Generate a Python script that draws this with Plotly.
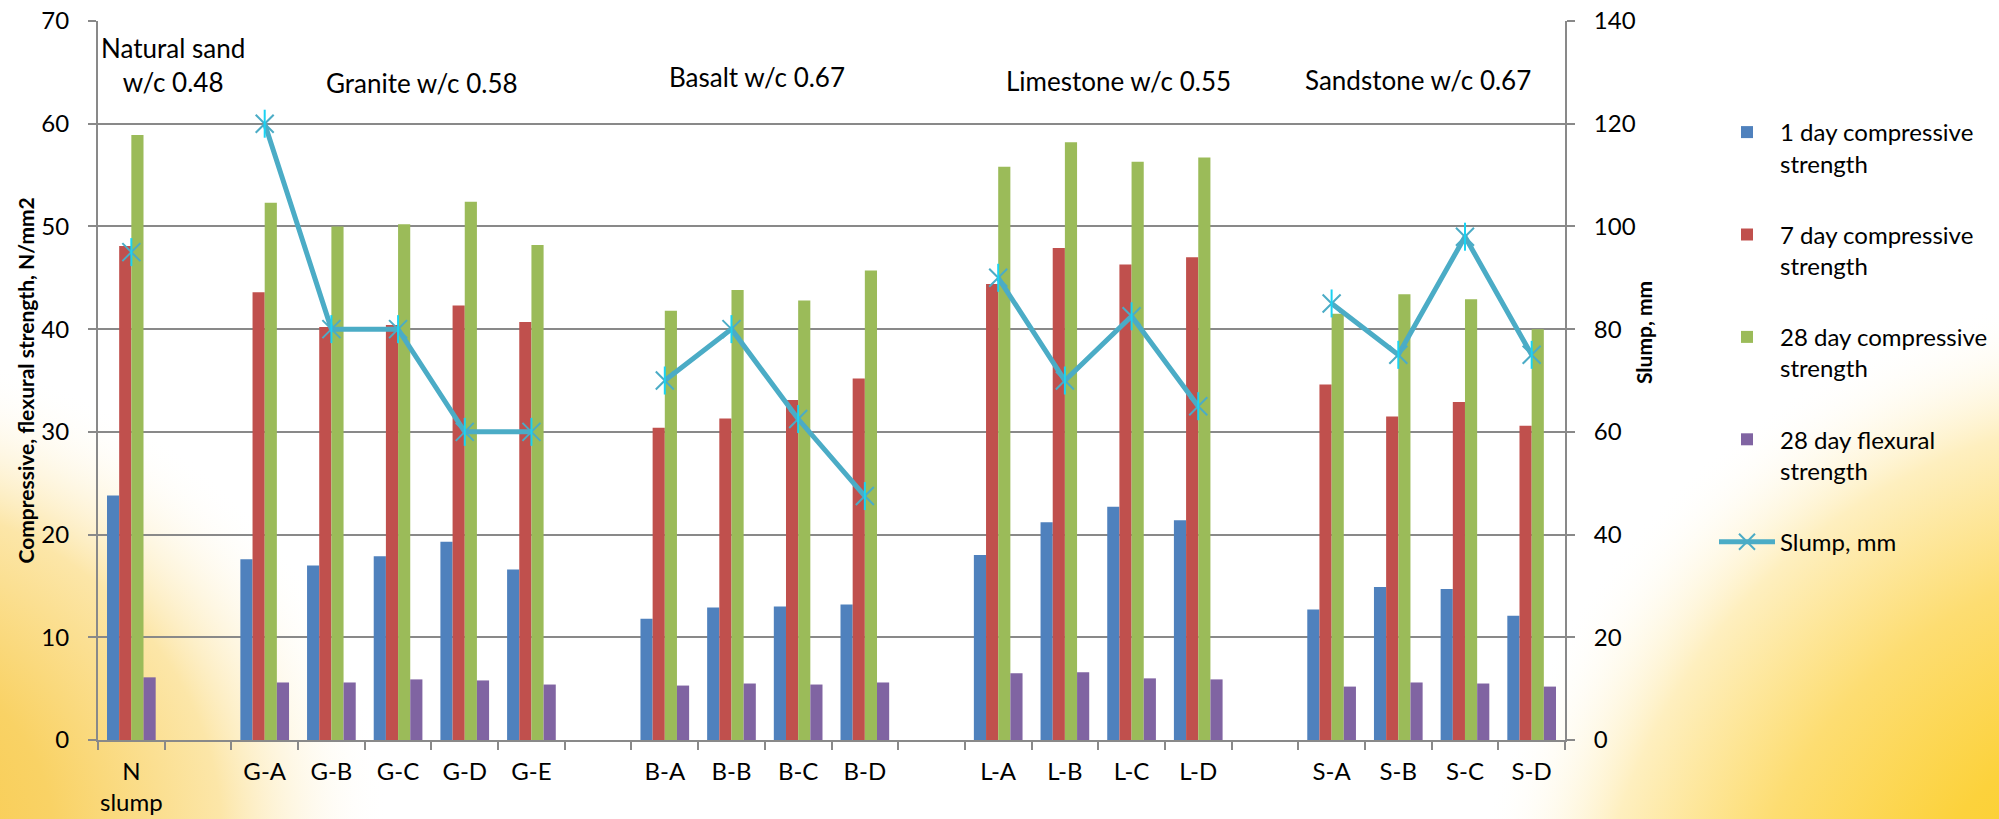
import base64
import plotly.graph_objects as go

# categories (blank entries are the gaps between aggregate groups)
categories = ["N<br>slump", " ", "G-A", "G-B", "G-C", "G-D", "G-E", "  ",
              "B-A", "B-B", "B-C", "B-D", "   ", "L-A", "L-B", "L-C", "L-D",
              "    ", "S-A", "S-B", "S-C", "S-D"]

comp_1day = [23.8, None, 17.6, 17.0, 17.9, 19.3, 16.6, None, 11.8, 12.9, 13.0, 13.2,
             None, 18.0, 21.2, 22.7, 21.4, None, 12.7, 14.9, 14.7, 12.1]
comp_7day = [48.1, None, 43.6, 40.2, 40.4, 42.3, 40.7, None, 30.4, 31.3, 33.1, 35.2,
             None, 44.4, 47.9, 46.3, 47.0, None, 34.6, 31.5, 32.9, 30.6]
comp_28day = [58.9, None, 52.3, 50.0, 50.2, 52.4, 48.2, None, 41.8, 43.8, 42.8, 45.7,
              None, 55.8, 58.2, 56.3, 56.7, None, 41.5, 43.4, 42.9, 40.0]
flex_28day = [6.1, None, 5.6, 5.6, 5.9, 5.8, 5.4, None, 5.3, 5.5, 5.4, 5.6,
              None, 6.5, 6.6, 6.0, 5.9, None, 5.2, 5.6, 5.5, 5.2]
slump = [95, None, 120, 80, 80, 60, 60, None, 70, 80, 62.5, 47.5,
         None, 90, 70, 82.5, 65, None, 85, 75, 98, 75]

group_labels = ["Natural sand<br>w/c 0.48", "Granite w/c 0.58", "Basalt w/c 0.67",
                "Limestone w/c 0.55", "Sandstone w/c 0.67"]
group_label_x = [0.62, 4.36, 9.38, 14.81, 19.3]
group_label_y = [65.7, 64.0, 64.5, 64.2, 64.3]

FONT = "Lato, Calibri, sans-serif"
GRID = "#898989"

# figure geometry
W, H = 1999, 819
L, R, T, B = 98, 434, 21, 79
pw, ph = W - L - R, H - T - B

# soft yellow glow in the bottom corners (background)
svg = f'''<svg xmlns="http://www.w3.org/2000/svg" width="{W}" height="{H}" viewBox="0 0 {W} {H}">
<defs>
<radialGradient id="gr">
<stop offset="0" stop-color="#FBC916"/>
<stop offset="0.40" stop-color="#FCD23C"/>
<stop offset="0.62" stop-color="#FDDD72"/>
<stop offset="0.82" stop-color="#FEEFBF"/>
<stop offset="1" stop-color="#FFFFFF" stop-opacity="0"/>
</radialGradient>
<radialGradient id="gl">
<stop offset="0" stop-color="#F8C63E"/>
<stop offset="0.40" stop-color="#F9D265"/>
<stop offset="0.70" stop-color="#FCE6A8"/>
<stop offset="1" stop-color="#FFFFFF" stop-opacity="0"/>
</radialGradient>
</defs>
<rect width="{W}" height="{H}" fill="#FFFFFF"/>
<ellipse cx="2180" cy="1000" rx="720" ry="720" fill="url(#gr)"/>
<ellipse cx="-170" cy="840" rx="560" ry="500" fill="url(#gl)"/>
</svg>'''
bg_src = "data:image/svg+xml;base64," + base64.b64encode(svg.encode()).decode()

fig = go.Figure()

bar_series = [
    ("1 day compressive<br>strength", comp_1day, "#4F81BD"),
    ("7 day compressive<br>strength", comp_7day, "#C0504D"),
    ("28 day compressive<br>strength", comp_28day, "#9BBB59"),
    ("28 day flexural<br>strength", flex_28day, "#8064A2"),
]
for i, (name, vals, col) in enumerate(bar_series):
    fig.add_trace(go.Bar(x=categories, y=vals, name=name, marker_color=col,
                         marker_line_width=0, legendgroup=f"g{i}"))

fig.add_trace(go.Scatter(x=categories, y=slump, name="Slump, mm", yaxis="y2",
                         mode="lines+markers", legendgroup="g4",
                         line=dict(color="#4BACC6", width=5),
                         marker=dict(symbol="x-thin-open", size=18,
                                     color="#4BACC6", line=dict(width=2, color="#4BACC6"))))
# vertical stroke of the asterisk marker
fig.add_trace(go.Scatter(x=categories, y=slump, yaxis="y2", mode="markers",
                         showlegend=False, hoverinfo="skip",
                         marker=dict(symbol="line-ns-open", size=20,
                                     line=dict(width=2, color="#4BACC6"))))

annotations = []
for txt, gx, gy in zip(group_labels, group_label_x, group_label_y):
    annotations.append(dict(x=gx, y=gy, xref="x", yref="y", text=txt, showarrow=False,
                            font=dict(size=26, color="#000000", family=FONT),
                            align="center", xanchor="center", yanchor="middle"))
annotations.append(dict(x=(25 - L) / pw, y=0.5, xref="paper", yref="paper",
                        text="<b>Compressive, flexural strength, N/mm2</b>", textangle=-90,
                        showarrow=False, font=dict(size=21, color="#000000", family=FONT),
                        xanchor="center", yanchor="middle"))
annotations.append(dict(x=(1643 - L) / pw, y=(H - B - 333) / ph, xref="paper", yref="paper",
                        text="<b>Slump, mm</b>", textangle=-90,
                        showarrow=False, font=dict(size=21, color="#000000", family=FONT),
                        xanchor="center", yanchor="middle"))

fig.update_layout(
    width=W, height=H,
    margin=dict(l=L, r=R, t=T, b=B, autoexpand=False),
    paper_bgcolor="white", plot_bgcolor="white",
    font=dict(family=FONT, size=24, color="#000000"),
    barmode="group", bargap=0.27, bargroupgap=0,
    showlegend=True,
    legend=dict(x=(1714 - L) / pw, y=1 - (110 - T) / ph, xanchor="left", yanchor="top",
                traceorder="grouped", tracegroupgap=37, valign="top", itemwidth=56,
                bgcolor="rgba(0,0,0,0)", font=dict(size=24, family=FONT)),
    xaxis=dict(type="category", categoryorder="array", categoryarray=categories,
               range=[-0.5, len(categories) - 0.5], tickangle=0, automargin=False,
               tickson="boundaries", ticks="outside", ticklen=8, tickwidth=2,
               tickcolor=GRID, showline=True, linecolor=GRID, linewidth=2,
               showgrid=False, tickfont=dict(size=24), ticklabelstandoff=9,
               fixedrange=True),
    yaxis=dict(range=[0, 70], dtick=10, showgrid=True, gridcolor=GRID, gridwidth=2,
               showline=True, linecolor=GRID, linewidth=2, ticks="outside",
               ticklen=8, tickwidth=2, tickcolor=GRID, zeroline=False, automargin=False,
               ticklabelstandoff=14, tickfont=dict(size=24)),
    yaxis2=dict(range=[0, 140], dtick=20, overlaying="y", side="right", showgrid=False,
                showline=True, linecolor=GRID, linewidth=2, ticks="outside",
                ticklen=8, tickwidth=2, tickcolor=GRID, zeroline=False, automargin=False,
                ticklabelstandoff=14, tickfont=dict(size=24)),
    annotations=annotations,
    images=[dict(source=bg_src, xref="paper", yref="paper", x=-L / pw, y=1 + T / ph,
                 sizex=W / pw, sizey=H / ph, sizing="stretch", layer="below",
                 xanchor="left", yanchor="top")],
)

# drop the default page margin so the figure fills the window exactly
fig.write_html("out.html", config={"displayModeBar": False},
               post_script="document.body.style.margin='0';document.body.style.overflow='hidden';")
